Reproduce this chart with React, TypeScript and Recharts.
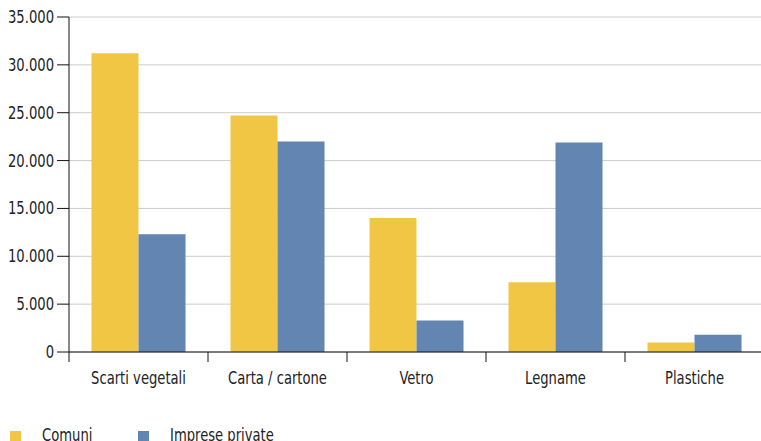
import { Bar, BarChart, CartesianGrid, Legend, XAxis, YAxis } from "recharts";

const categories = ["Scarti vegetali", "Carta / cartone", "Vetro", "Legname", "Plastiche"];
const comuni = [31200, 24700, 14000, 7300, 1000];
const imprese = [12300, 22000, 3300, 21900, 1800];
const yTicks = [0, 5000, 10000, 15000, 20000, 25000, 30000, 35000];

const data = categories.map((name, i) => ({ name, comuni: comuni[i], imprese: imprese[i] }));

const YELLOW = "#f1c644";
const BLUE = "#6285b1";
const FONT = '"Liberation Sans Narrow", "DejaVu Sans Condensed", sans-serif';
const SQUEEZE = 0.86; // condensed look of the original face

const W = 770;
const H = 441;
const MARGIN = { top: 17, right: 6, left: 0, bottom: 0 };
const Y_WIDTH = 69;
const HALF_BAND = (W - MARGIN.left - MARGIN.right - Y_WIDTH) / categories.length / 2;
const X_TICK = 10;

const fmt = (v: number) => String(v).replace(/\B(?=(\d{3})+(?!\d))/g, ".");

function CategoryTick({ x, y, payload, index }: any) {
  // y is below the tick line; axis line sits at y - X_TICK
  const top = y - X_TICK;
  return (
    <g>
      {index === 0 && (
        <line x1={x - HALF_BAND} x2={x - HALF_BAND} y1={top} y2={top + X_TICK} stroke="#111" />
      )}
      <line x1={x + HALF_BAND} x2={x + HALF_BAND} y1={top} y2={top + X_TICK} stroke="#111" />
      <text
        transform={`translate(${x},${y + 22}) scale(${SQUEEZE},1)`}
        textAnchor="middle"
        fill="#222"
        fontSize={17}
        fontFamily={FONT}
      >
        {payload.value}
      </text>
    </g>
  );
}

function ValueTick({ x, y, payload }: any) {
  return (
    <text
      transform={`translate(${x},${y + 6}) scale(${SQUEEZE},1)`}
      textAnchor="end"
      fill="#222"
      fontSize={17}
      fontFamily={FONT}
    >
      {fmt(payload.value)}
    </text>
  );
}

function LegendBox() {
  const items = [
    { label: "Comuni", color: YELLOW, x: 10 },
    { label: "Imprese private", color: BLUE, x: 138 },
  ];
  return (
    <div style={{ position: "relative", height: 20, width: 400 }}>
      {items.map((it) => (
        <div key={it.label}>
          <div
            style={{ position: "absolute", left: it.x, top: 10, width: 11, height: 11, background: it.color }}
          />
          <div
            style={{
              position: "absolute",
              left: it.x + 32,
              top: 4,
              fontFamily: FONT,
              fontSize: 17,
              color: "#222",
              lineHeight: "20px",
              whiteSpace: "nowrap",
              transform: `scaleX(${SQUEEZE})`,
              transformOrigin: "left center",
            }}
          >
            {it.label}
          </div>
        </div>
      ))}
    </div>
  );
}

export default function App() {
  return (
    <div style={{ position: "absolute", left: 0, top: 0, width: 761, height: H, overflow: "hidden", background: "#fff" }}>
      <BarChart width={W} height={H} data={data} margin={MARGIN} barCategoryGap="16.2%" barGap={0}>
        <CartesianGrid horizontal vertical={false} stroke="#cccccc" />
        <XAxis
          dataKey="name"
          height={69}
          axisLine={{ stroke: "#111" }}
          tickLine={false}
          tickSize={X_TICK}
          tickMargin={0}
          tick={<CategoryTick />}
          interval={0}
        />
        <YAxis
          width={Y_WIDTH}
          domain={[0, 35000]}
          ticks={yTicks}
          axisLine={{ stroke: "#111" }}
          tickLine={{ stroke: "#111" }}
          tickSize={12}
          tickMargin={3}
          tick={<ValueTick />}
        />
        <Legend
          verticalAlign="bottom"
          content={<LegendBox />}
          wrapperStyle={{ left: 0, bottom: 0, width: 400, height: 20 }}
        />
        <Bar dataKey="comuni" name="Comuni" fill={YELLOW} isAnimationActive={false} />
        <Bar dataKey="imprese" name="Imprese private" fill={BLUE} isAnimationActive={false} />
      </BarChart>
    </div>
  );
}
